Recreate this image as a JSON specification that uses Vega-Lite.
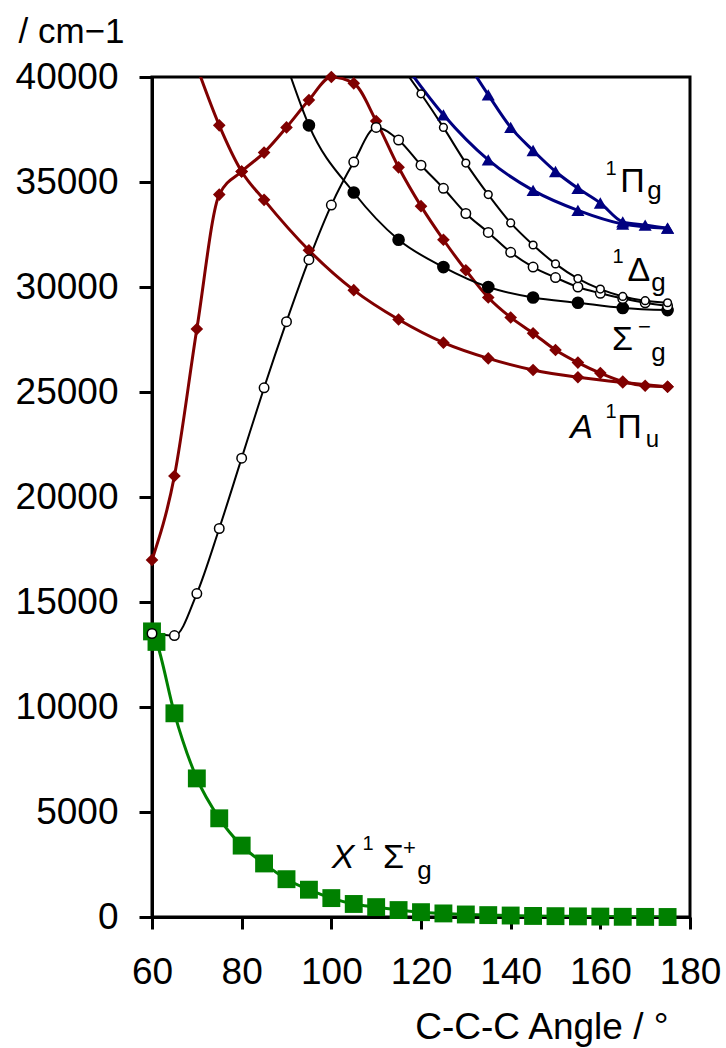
{
  "$schema": "https://vega.github.io/schema/vega-lite/v6.json",
  "width": 538,
  "height": 840,
  "autosize": {"type": "none"},
  "padding": {"left": 152, "top": 77, "right": 36, "bottom": 131},
  "background": "white",
  "config": {
    "view": {"stroke": "black", "strokeWidth": 3},
    "font": "Liberation Sans",
    "text": {"font": "Liberation Sans", "color": "black"}
  },
  "datasets": {
    "curves": [
      {"series": "X", "angle": 60, "energy": 13600},
      {"series": "X", "angle": 61, "energy": 13100},
      {"series": "X", "angle": 65, "energy": 9700},
      {"series": "X", "angle": 70, "energy": 6600},
      {"series": "X", "angle": 75, "energy": 4700},
      {"series": "X", "angle": 80, "energy": 3400},
      {"series": "X", "angle": 85, "energy": 2550},
      {"series": "X", "angle": 90, "energy": 1800},
      {"series": "X", "angle": 95, "energy": 1300},
      {"series": "X", "angle": 100, "energy": 900},
      {"series": "X", "angle": 105, "energy": 620},
      {"series": "X", "angle": 110, "energy": 470},
      {"series": "X", "angle": 115, "energy": 330},
      {"series": "X", "angle": 120, "energy": 230},
      {"series": "X", "angle": 125, "energy": 170},
      {"series": "X", "angle": 130, "energy": 120},
      {"series": "X", "angle": 135, "energy": 90},
      {"series": "X", "angle": 140, "energy": 70},
      {"series": "X", "angle": 145, "energy": 50},
      {"series": "X", "angle": 150, "energy": 40},
      {"series": "X", "angle": 155, "energy": 30},
      {"series": "X", "angle": 160, "energy": 20},
      {"series": "X", "angle": 165, "energy": 10},
      {"series": "X", "angle": 170, "energy": 5},
      {"series": "X", "angle": 175, "energy": 0},

      {"series": "A1", "angle": 60, "energy": 17000},
      {"series": "A1", "angle": 65, "energy": 21000},
      {"series": "A1", "angle": 70, "energy": 28000},
      {"series": "A1", "angle": 75, "energy": 34400},
      {"series": "A1", "angle": 80, "energy": 35500},
      {"series": "A1", "angle": 85, "energy": 36400},
      {"series": "A1", "angle": 90, "energy": 37600},
      {"series": "A1", "angle": 95, "energy": 38900},
      {"series": "A1", "angle": 100, "energy": 40000},
      {"series": "A1", "angle": 105, "energy": 39700},
      {"series": "A1", "angle": 110, "energy": 37900},
      {"series": "A1", "angle": 115, "energy": 35700},
      {"series": "A1", "angle": 120, "energy": 33850},
      {"series": "A1", "angle": 125, "energy": 32250},
      {"series": "A1", "angle": 130, "energy": 30800},
      {"series": "A1", "angle": 135, "energy": 29500},
      {"series": "A1", "angle": 140, "energy": 28550},
      {"series": "A1", "angle": 145, "energy": 27800},
      {"series": "A1", "angle": 150, "energy": 27000},
      {"series": "A1", "angle": 155, "energy": 26400},
      {"series": "A1", "angle": 160, "energy": 25900},
      {"series": "A1", "angle": 165, "energy": 25500},
      {"series": "A1", "angle": 170, "energy": 25300},
      {"series": "A1", "angle": 175, "energy": 25250},

      {"series": "A2", "angle": 70, "energy": 40500},
      {"series": "A2", "angle": 75, "energy": 37700},
      {"series": "A2", "angle": 80, "energy": 35500},
      {"series": "A2", "angle": 85, "energy": 34150},
      {"series": "A2", "angle": 95, "energy": 31750},
      {"series": "A2", "angle": 105, "energy": 29850},
      {"series": "A2", "angle": 115, "energy": 28450},
      {"series": "A2", "angle": 125, "energy": 27350},
      {"series": "A2", "angle": 135, "energy": 26600},
      {"series": "A2", "angle": 145, "energy": 26050},
      {"series": "A2", "angle": 155, "energy": 25700},
      {"series": "A2", "angle": 165, "energy": 25450},
      {"series": "A2", "angle": 175, "energy": 25250},

      {"series": "Sg", "angle": 90, "energy": 40600},
      {"series": "Sg", "angle": 95, "energy": 37700},
      {"series": "Sg", "angle": 105, "energy": 34500},
      {"series": "Sg", "angle": 115, "energy": 32250},
      {"series": "Sg", "angle": 125, "energy": 30950},
      {"series": "Sg", "angle": 135, "energy": 30000},
      {"series": "Sg", "angle": 145, "energy": 29500},
      {"series": "Sg", "angle": 155, "energy": 29250},
      {"series": "Sg", "angle": 165, "energy": 29000},
      {"series": "Sg", "angle": 175, "energy": 28900},

      {"series": "Dg1", "angle": 60, "energy": 13500},
      {"series": "Dg1", "angle": 65, "energy": 13400},
      {"series": "Dg1", "angle": 70, "energy": 15400},
      {"series": "Dg1", "angle": 75, "energy": 18500},
      {"series": "Dg1", "angle": 80, "energy": 21850},
      {"series": "Dg1", "angle": 85, "energy": 25200},
      {"series": "Dg1", "angle": 90, "energy": 28350},
      {"series": "Dg1", "angle": 95, "energy": 31300},
      {"series": "Dg1", "angle": 100, "energy": 33900},
      {"series": "Dg1", "angle": 105, "energy": 35950},
      {"series": "Dg1", "angle": 110, "energy": 37600},
      {"series": "Dg1", "angle": 115, "energy": 37000},
      {"series": "Dg1", "angle": 120, "energy": 35800},
      {"series": "Dg1", "angle": 125, "energy": 34700},
      {"series": "Dg1", "angle": 130, "energy": 33500},
      {"series": "Dg1", "angle": 135, "energy": 32600},
      {"series": "Dg1", "angle": 140, "energy": 31650},
      {"series": "Dg1", "angle": 145, "energy": 30950},
      {"series": "Dg1", "angle": 150, "energy": 30450},
      {"series": "Dg1", "angle": 155, "energy": 30000},
      {"series": "Dg1", "angle": 160, "energy": 29700},
      {"series": "Dg1", "angle": 165, "energy": 29450},
      {"series": "Dg1", "angle": 170, "energy": 29250},
      {"series": "Dg1", "angle": 175, "energy": 29100},

      {"series": "Dg2", "angle": 115, "energy": 40700},
      {"series": "Dg2", "angle": 120, "energy": 39200},
      {"series": "Dg2", "angle": 125, "energy": 37600},
      {"series": "Dg2", "angle": 130, "energy": 35900},
      {"series": "Dg2", "angle": 135, "energy": 34400},
      {"series": "Dg2", "angle": 140, "energy": 33050},
      {"series": "Dg2", "angle": 145, "energy": 32000},
      {"series": "Dg2", "angle": 150, "energy": 31100},
      {"series": "Dg2", "angle": 155, "energy": 30400},
      {"series": "Dg2", "angle": 160, "energy": 29900},
      {"series": "Dg2", "angle": 165, "energy": 29550},
      {"series": "Dg2", "angle": 170, "energy": 29350},
      {"series": "Dg2", "angle": 175, "energy": 29250},

      {"series": "Pg1", "angle": 115, "energy": 41000},
      {"series": "Pg1", "angle": 125, "energy": 38200},
      {"series": "Pg1", "angle": 135, "energy": 36050},
      {"series": "Pg1", "angle": 145, "energy": 34600},
      {"series": "Pg1", "angle": 155, "energy": 33650},
      {"series": "Pg1", "angle": 165, "energy": 33000},
      {"series": "Pg1", "angle": 175, "energy": 32800},

      {"series": "Pg2", "angle": 130, "energy": 40800},
      {"series": "Pg2", "angle": 135, "energy": 39150},
      {"series": "Pg2", "angle": 140, "energy": 37600},
      {"series": "Pg2", "angle": 145, "energy": 36500},
      {"series": "Pg2", "angle": 150, "energy": 35500},
      {"series": "Pg2", "angle": 155, "energy": 34700},
      {"series": "Pg2", "angle": 160, "energy": 34000},
      {"series": "Pg2", "angle": 165, "energy": 33100},
      {"series": "Pg2", "angle": 170, "energy": 32950},
      {"series": "Pg2", "angle": 175, "energy": 32800}
    ]
  },
  "layer": [
    {
      "data": {"name": "curves"},
      "transform": [{"filter": {"field": "series", "oneOf": ["X", "A1", "A2", "Pg1", "Pg2"]}}],
      "mark": {"type": "line", "interpolate": "monotone", "clip": true, "strokeWidth": 3},
      "encoding": {
        "x": {
          "field": "angle", "type": "quantitative",
          "scale": {"domain": [60, 180], "nice": false, "zero": false},
          "axis": {
            "values": [60, 80, 100, 120, 140, 160, 180],
            "grid": false, "domainColor": "black", "domainWidth": 3,
            "tickColor": "black", "tickWidth": 3, "tickSize": 12,
            "labelFont": "Liberation Sans", "labelFontSize": 37, "labelColor": "black",
            "labelPadding": 25, "labelFlush": false, "labelOverlap": false,
            "title": "C-C-C Angle / °", "titleFont": "Liberation Sans", "titleFontSize": 37,
            "titleFontWeight": "normal", "titleColor": "black",
            "titleAlign": "right", "titleBaseline": "alphabetic", "titleX": 516, "titleY": 121
          }
        },
        "y": {
          "field": "energy", "type": "quantitative",
          "scale": {"domain": [0, 40000], "nice": false, "zero": false},
          "axis": {
            "values": [0, 5000, 10000, 15000, 20000, 25000, 30000, 35000, 40000],
            "format": "d",
            "grid": false, "domainColor": "black", "domainWidth": 3,
            "tickColor": "black", "tickWidth": 3, "tickSize": 13,
            "labelFont": "Liberation Sans", "labelFontSize": 37, "labelColor": "black",
            "labelPadding": 21, "labelFlush": false, "labelOverlap": false,
            "title": "/ cm−1", "titleFont": "Liberation Sans", "titleFontSize": 35,
            "titleFontWeight": "normal", "titleColor": "black", "titleAngle": 0,
            "titleAlign": "left", "titleBaseline": "alphabetic", "titleX": -134, "titleY": -35
          }
        },
        "color": {
          "field": "series", "type": "nominal", "legend": null,
          "scale": {
            "domain": ["X", "A1", "A2", "Sg", "Dg1", "Dg2", "Pg1", "Pg2"],
            "range": ["#008000", "#800000", "#800000", "#000000", "#000000", "#000000", "#000080", "#000080"]
          }
        }
      }
    },
    {
      "data": {"name": "curves"},
      "transform": [{"filter": {"field": "series", "oneOf": ["Sg", "Dg1", "Dg2"]}}],
      "mark": {"type": "line", "interpolate": "monotone", "clip": true, "strokeWidth": 2, "color": "black"},
      "encoding": {
        "x": {"field": "angle", "type": "quantitative"},
        "y": {"field": "energy", "type": "quantitative"},
        "detail": {"field": "series", "type": "nominal"}
      }
    },
    {
      "data": {"name": "curves"},
      "transform": [{"filter": {"field": "series", "equal": "X"}}],
      "mark": {"type": "point", "shape": "square", "filled": true, "size": 320, "color": "#008000", "opacity": 1},
      "encoding": {"x": {"field": "angle", "type": "quantitative"}, "y": {"field": "energy", "type": "quantitative"}}
    },
    {
      "data": {"name": "curves"},
      "transform": [{"filter": {"field": "series", "oneOf": ["A1", "A2"]}}, {"filter": {"field": "energy", "lte": 40000}}],
      "mark": {"type": "point", "shape": "diamond", "filled": true, "size": 160, "color": "#800000", "opacity": 1},
      "encoding": {"x": {"field": "angle", "type": "quantitative"}, "y": {"field": "energy", "type": "quantitative"}}
    },
    {
      "data": {"name": "curves"},
      "transform": [{"filter": {"field": "series", "equal": "Sg"}}, {"filter": {"field": "energy", "lte": 40000}}],
      "mark": {"type": "point", "shape": "circle", "filled": true, "size": 160, "color": "black", "opacity": 1},
      "encoding": {"x": {"field": "angle", "type": "quantitative"}, "y": {"field": "energy", "type": "quantitative"}}
    },
    {
      "data": {"name": "curves"},
      "transform": [{"filter": {"field": "series", "equal": "Dg1"}}],
      "mark": {"type": "point", "shape": "circle", "size": 90, "fill": "white", "fillOpacity": 1, "stroke": "black", "strokeWidth": 1.5, "opacity": 1},
      "encoding": {"x": {"field": "angle", "type": "quantitative"}, "y": {"field": "energy", "type": "quantitative"}}
    },
    {
      "data": {"name": "curves"},
      "transform": [{"filter": {"field": "series", "equal": "Dg2"}}, {"filter": {"field": "energy", "lte": 40000}}],
      "mark": {"type": "point", "shape": "circle", "size": 60, "fill": "white", "fillOpacity": 1, "stroke": "black", "strokeWidth": 1.5, "opacity": 1},
      "encoding": {"x": {"field": "angle", "type": "quantitative"}, "y": {"field": "energy", "type": "quantitative"}}
    },
    {
      "data": {"name": "curves"},
      "transform": [{"filter": {"field": "series", "oneOf": ["Pg1", "Pg2"]}}, {"filter": {"field": "energy", "lte": 40000}}],
      "mark": {"type": "point", "shape": "triangle-up", "filled": true, "size": 170, "color": "#000080", "opacity": 1},
      "encoding": {"x": {"field": "angle", "type": "quantitative"}, "y": {"field": "energy", "type": "quantitative"}}
    },

    {"data": {"values": [{}]}, "mark": {"type": "text", "text": "1", "fontSize": 20, "align": "center", "baseline": "alphabetic"}, "encoding": {"x": {"datum": 162.38}, "y": {"datum": 35333}}},
    {"data": {"values": [{}]}, "mark": {"type": "text", "text": "Π", "fontSize": 34, "align": "center", "baseline": "alphabetic"}, "encoding": {"x": {"datum": 167.18}, "y": {"datum": 34524}}},
    {"data": {"values": [{}]}, "mark": {"type": "text", "text": "g", "fontSize": 26, "align": "center", "baseline": "alphabetic"}, "encoding": {"x": {"datum": 172.08}, "y": {"datum": 34214}}},

    {"data": {"values": [{}]}, "mark": {"type": "text", "text": "1", "fontSize": 20, "align": "center", "baseline": "alphabetic"}, "encoding": {"x": {"datum": 163.94}, "y": {"datum": 31143}}},
    {"data": {"values": [{}]}, "mark": {"type": "text", "text": "Δ", "fontSize": 34, "align": "center", "baseline": "alphabetic"}, "encoding": {"x": {"datum": 168.62}, "y": {"datum": 30286}}},
    {"data": {"values": [{}]}, "mark": {"type": "text", "text": "g", "fontSize": 26, "align": "center", "baseline": "alphabetic"}, "encoding": {"x": {"datum": 172.98}, "y": {"datum": 29833}}},

    {"data": {"values": [{}]}, "mark": {"type": "text", "text": "Σ", "fontSize": 34, "align": "center", "baseline": "alphabetic"}, "encoding": {"x": {"datum": 164.95}, "y": {"datum": 27000}}},
    {"data": {"values": [{}]}, "mark": {"type": "text", "text": "−", "fontSize": 22, "align": "center", "baseline": "middle"}, "encoding": {"x": {"datum": 169.85}, "y": {"datum": 28095}}},
    {"data": {"values": [{}]}, "mark": {"type": "text", "text": "g", "fontSize": 26, "align": "center", "baseline": "alphabetic"}, "encoding": {"x": {"datum": 172.98}, "y": {"datum": 26500}}},

    {"data": {"values": [{}]}, "mark": {"type": "text", "text": "A", "fontSize": 34, "fontStyle": "italic", "align": "center", "baseline": "alphabetic"}, "encoding": {"x": {"datum": 155.8}, "y": {"datum": 22810}}},
    {"data": {"values": [{}]}, "mark": {"type": "text", "text": "1", "fontSize": 20, "align": "center", "baseline": "alphabetic"}, "encoding": {"x": {"datum": 162.38}, "y": {"datum": 23762}}},
    {"data": {"values": [{}]}, "mark": {"type": "text", "text": "Π", "fontSize": 34, "align": "center", "baseline": "alphabetic"}, "encoding": {"x": {"datum": 166.51}, "y": {"datum": 22810}}},
    {"data": {"values": [{}]}, "mark": {"type": "text", "text": "u", "fontSize": 24, "align": "center", "baseline": "alphabetic"}, "encoding": {"x": {"datum": 171.64}, "y": {"datum": 22381}}},

    {"data": {"values": [{}]}, "mark": {"type": "text", "text": "X", "fontSize": 34, "fontStyle": "italic", "align": "center", "baseline": "alphabetic"}, "encoding": {"x": {"datum": 102.6}, "y": {"datum": 2333}}},
    {"data": {"values": [{}]}, "mark": {"type": "text", "text": "1", "fontSize": 20, "align": "center", "baseline": "alphabetic"}, "encoding": {"x": {"datum": 108.18}, "y": {"datum": 3190}}},
    {"data": {"values": [{}]}, "mark": {"type": "text", "text": "Σ", "fontSize": 34, "align": "center", "baseline": "alphabetic"}, "encoding": {"x": {"datum": 113.87}, "y": {"datum": 2333}}},
    {"data": {"values": [{}]}, "mark": {"type": "text", "text": "+", "fontSize": 22, "align": "center", "baseline": "middle"}, "encoding": {"x": {"datum": 117.43}, "y": {"datum": 3286}}},
    {"data": {"values": [{}]}, "mark": {"type": "text", "text": "g", "fontSize": 26, "align": "center", "baseline": "alphabetic"}, "encoding": {"x": {"datum": 120.78}, "y": {"datum": 1833}}}
  ]
}
